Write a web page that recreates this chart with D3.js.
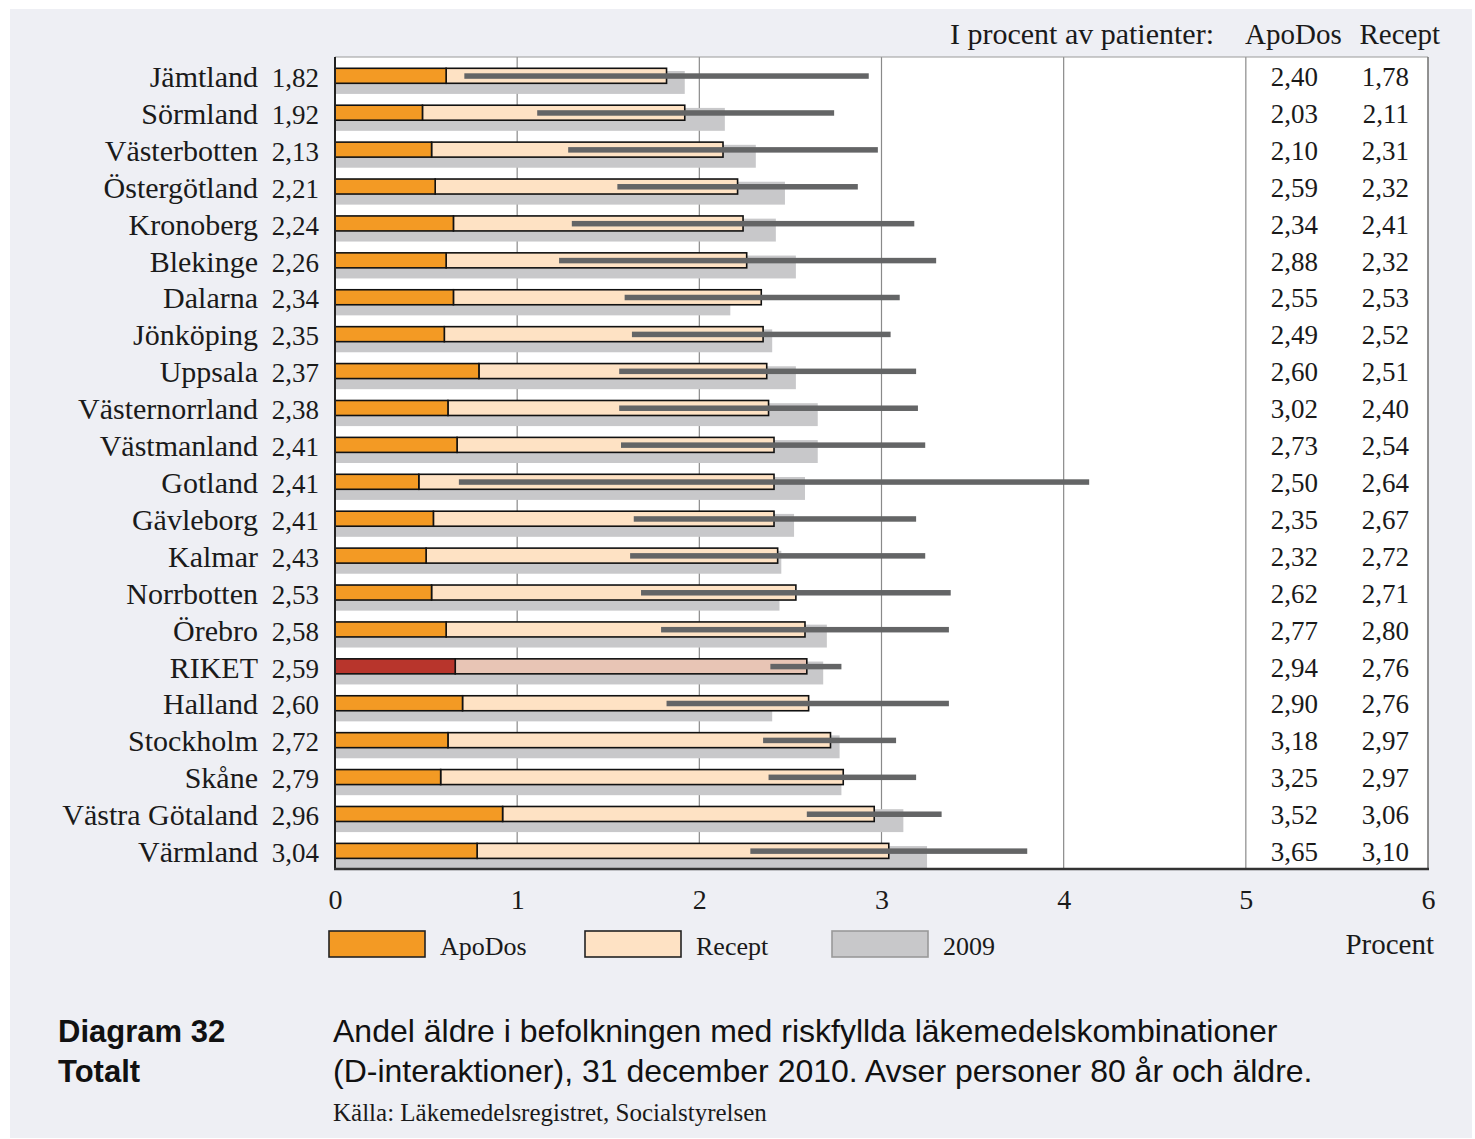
<!DOCTYPE html>
<html>
<head>
<meta charset="utf-8">
<script src="https://cdn.jsdelivr.net/npm/d3@7"></script>
<style>
  html, body { margin: 0; padding: 0; background: #ffffff; }
  svg { display: block; }
</style>
</head>
<body>
<svg id="chart" width="1475" height="1139"></svg>
<script>
// ---------- data ----------
const regions = ["Jämtland","Sörmland","Västerbotten","Östergötland","Kronoberg","Blekinge","Dalarna","Jönköping","Uppsala","Västernorrland","Västmanland","Gotland","Gävleborg","Kalmar","Norrbotten","Örebro","RIKET","Halland","Stockholm","Skåne","Västra Götaland","Värmland"];
const totalValues = [1.82,1.92,2.13,2.21,2.24,2.26,2.34,2.35,2.37,2.38,2.41,2.41,2.41,2.43,2.53,2.58,2.59,2.60,2.72,2.79,2.96,3.04];
const apoDosValues = [0.61,0.48,0.53,0.55,0.65,0.61,0.65,0.60,0.79,0.62,0.67,0.46,0.54,0.50,0.53,0.61,0.66,0.70,0.62,0.58,0.92,0.78];
const values2009 = [1.92,2.14,2.31,2.47,2.42,2.53,2.17,2.40,2.53,2.65,2.65,2.58,2.52,2.45,2.44,2.70,2.68,2.40,2.77,2.78,3.12,3.25];
const rangeLow = [0.71,1.11,1.28,1.55,1.30,1.23,1.59,1.63,1.56,1.56,1.57,0.68,1.64,1.62,1.68,1.79,2.39,1.82,2.35,2.38,2.59,2.28];
const rangeHigh = [2.93,2.74,2.98,2.87,3.18,3.30,3.10,3.05,3.19,3.20,3.24,4.14,3.19,3.24,3.38,3.37,2.78,3.37,3.08,3.19,3.33,3.80];
const pctApoDos = ["2,40","2,03","2,10","2,59","2,34","2,88","2,55","2,49","2,60","3,02","2,73","2,50","2,35","2,32","2,62","2,77","2,94","2,90","3,18","3,25","3,52","3,65"];
const pctRecept = ["1,78","2,11","2,31","2,32","2,41","2,32","2,53","2,52","2,51","2,40","2,54","2,64","2,67","2,72","2,71","2,80","2,76","2,76","2,97","2,97","3,06","3,10"];
const xTicks = [0,1,2,3,4,5,6];
const legendLabels = ["ApoDos","Recept","2009"];
const highlight = "RIKET";

const rows = regions.map((r, i) => ({
  region: r, total: totalValues[i], apo: apoDosValues[i], v2009: values2009[i],
  lo: rangeLow[i], hi: rangeHigh[i], pA: pctApoDos[i], pR: pctRecept[i]
}));

// ---------- styles ----------
const serif = "'Liberation Serif', 'DejaVu Serif', serif";
const sans = "'Liberation Sans', Arial, sans-serif";
const C = {
  panel: "#eeeff4", orange: "#f39a24", peach: "#fee2c4", red: "#b8352c", pink: "#e8c5b5",
  gray2009: "#c8c8ca", range: "#646566", grid: "#8a8a8a", text: "#1a1a1a"
};

const svg = d3.select("#chart");
svg.append("rect").attr("x", 10).attr("y", 9).attr("width", 1462).attr("height", 1129).attr("fill", C.panel);

const pLeft = 335, pRight = 1428, pTop = 57, pBottom = 869;
const x = d3.scaleLinear().domain([0, 6]).range([pLeft, pRight]);
const y = d3.scaleBand().domain(regions).range([pTop, pBottom]).paddingInner(0).paddingOuter(0);
const bw = y.bandwidth();
const fmt = v => d3.format(".2f")(v).replace(".", ",");

// plot background
svg.append("rect").attr("x", pLeft).attr("y", pTop).attr("width", pRight - pLeft).attr("height", pBottom - pTop).attr("fill", "#ffffff");

// gridlines
svg.append("g").selectAll("line").data(xTicks.filter(t => t > 0 && t < 6)).join("line")
  .attr("x1", d => x(d)).attr("x2", d => x(d)).attr("y1", pTop).attr("y2", pBottom)
  .attr("stroke", C.grid).attr("stroke-width", 1.2);

// 2009 bars
svg.append("g").selectAll("rect").data(rows).join("rect")
  .attr("x", x(0)).attr("y", d => y(d.region) + 14)
  .attr("width", d => x(d.v2009) - x(0)).attr("height", bw - 14)
  .attr("fill", C.gray2009);

// stacked bars
const gBars = svg.append("g");
gBars.selectAll("rect.rec").data(rows).join("rect").attr("class", "rec")
  .attr("x", d => x(d.apo)).attr("y", d => y(d.region) + 11.3)
  .attr("width", d => x(d.total) - x(d.apo)).attr("height", 15)
  .attr("fill", d => d.region === highlight ? C.pink : C.peach)
  .attr("stroke", "#111").attr("stroke-width", 1.6);
gBars.selectAll("rect.apo").data(rows).join("rect").attr("class", "apo")
  .attr("x", x(0)).attr("y", d => y(d.region) + 11.3)
  .attr("width", d => x(d.apo) - x(0)).attr("height", 15)
  .attr("fill", d => d.region === highlight ? C.red : C.orange)
  .attr("stroke", "#111").attr("stroke-width", 1.6);

// range lines
svg.append("g").selectAll("rect").data(rows).join("rect")
  .attr("x", d => x(d.lo)).attr("y", d => y(d.region) + 16.3)
  .attr("width", d => x(d.hi) - x(d.lo)).attr("height", 5.5)
  .attr("fill", C.range);

// frame
svg.append("line").attr("x1", pLeft).attr("x2", pRight).attr("y1", pTop).attr("y2", pTop).attr("stroke", "#9a9a9a").attr("stroke-width", 1);
svg.append("line").attr("x1", pRight).attr("x2", pRight).attr("y1", pTop).attr("y2", pBottom).attr("stroke", "#777").attr("stroke-width", 1.6);
svg.append("line").attr("x1", pLeft).attr("x2", pLeft).attr("y1", pTop).attr("y2", pBottom + 1).attr("stroke", "#222").attr("stroke-width", 2);
svg.append("line").attr("x1", pLeft - 1).attr("x2", pRight + 1).attr("y1", pBottom).attr("y2", pBottom).attr("stroke", "#333").attr("stroke-width", 2.6);

// x axis
const xAxis = svg.append("g").attr("transform", `translate(0,${pBottom})`)
  .call(d3.axisBottom(x).tickValues(xTicks).tickSize(0).tickPadding(0).tickFormat(d3.format("d")));
xAxis.select(".domain").remove();
xAxis.selectAll("text").attr("dy", null).attr("y", 40)
  .style("font-family", serif).style("font-size", "28px").attr("fill", C.text);

// left labels
const gL = svg.append("g").style("font-family", serif).attr("fill", C.text);
gL.selectAll("text.name").data(rows).join("text").attr("class", "name")
  .attr("x", 258).attr("y", d => y(d.region) + 30).attr("text-anchor", "end")
  .style("font-size", "30px").text(d => d.region);
gL.selectAll("text.val").data(rows).join("text").attr("class", "val")
  .attr("x", 319).attr("y", d => y(d.region) + 30).attr("text-anchor", "end")
  .style("font-size", "27px").text(d => fmt(d.total));

// right table
const gR = svg.append("g").style("font-family", serif).attr("fill", C.text).style("font-size", "27px");
gR.selectAll("text.pa").data(rows).join("text").attr("class", "pa")
  .attr("x", 1318).attr("y", d => y(d.region) + 29).attr("text-anchor", "end").text(d => d.pA);
gR.selectAll("text.pr").data(rows).join("text").attr("class", "pr")
  .attr("x", 1409).attr("y", d => y(d.region) + 29).attr("text-anchor", "end").text(d => d.pR);

// header
const gH = svg.append("g").style("font-family", serif).attr("fill", C.text);
gH.append("text").attr("x", 1214).attr("y", 44).attr("text-anchor", "end").style("font-size", "30px").text("I procent av patienter:");
gH.append("text").attr("x", 1245).attr("y", 44).style("font-size", "29px").text("ApoDos");
gH.append("text").attr("x", 1440).attr("y", 44).attr("text-anchor", "end").style("font-size", "29px").text("Recept");

// legend
const legendX = [329, 585, 832];
const legendFill = [C.orange, C.peach, C.gray2009];
const gLeg = svg.append("g");
legendLabels.forEach((lab, i) => {
  gLeg.append("rect").attr("x", legendX[i]).attr("y", 931).attr("width", 96).attr("height", 26)
    .attr("fill", legendFill[i]).attr("stroke", i === 2 ? "#999" : "#222").attr("stroke-width", 1.6);
  gLeg.append("text").attr("x", legendX[i] + 111).attr("y", 955)
    .style("font-family", serif).style("font-size", "26px").attr("fill", C.text).text(lab);
});
svg.append("text").attr("x", 1434).attr("y", 954).attr("text-anchor", "end")
  .style("font-family", serif).style("font-size", "29px").attr("fill", C.text).text("Procent");

// caption
const gC = svg.append("g").attr("fill", "#111");
gC.append("text").attr("x", 58).attr("y", 1042).style("font-family", sans).style("font-weight", "bold").style("font-size", "31px").text("Diagram 32");
gC.append("text").attr("x", 58).attr("y", 1082).style("font-family", sans).style("font-weight", "bold").style("font-size", "31px").text("Totalt");
gC.append("text").attr("x", 333).attr("y", 1042).style("font-family", sans).style("font-size", "32px").text("Andel äldre i befolkningen med riskfyllda läkemedelskombinationer");
gC.append("text").attr("x", 333).attr("y", 1082).style("font-family", sans).style("font-size", "32px").text("(D-interaktioner), 31 december 2010. Avser personer 80 år och äldre.");
gC.append("text").attr("x", 333).attr("y", 1121).style("font-family", serif).style("font-size", "25px").attr("fill", C.text).text("Källa: Läkemedelsregistret, Socialstyrelsen");
</script>
</body>
</html>
